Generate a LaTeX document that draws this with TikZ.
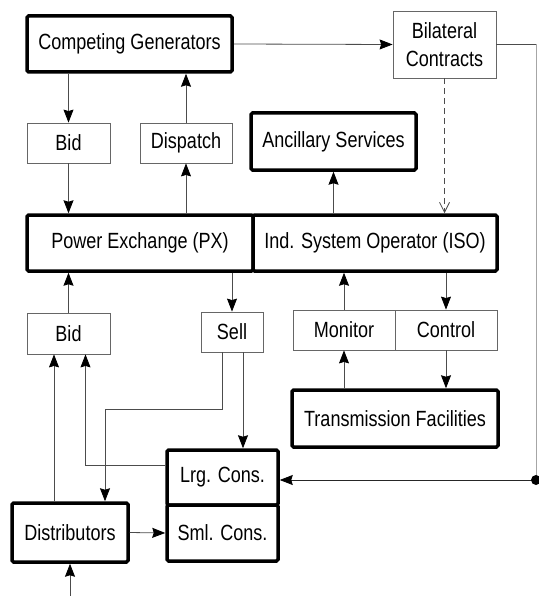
\documentclass[tikz,border=0pt]{standalone}
\usepackage{fontspec}
\setmainfont{Liberation Sans}[FakeStretch=0.82]
\usetikzlibrary{arrows.meta}
\begin{document}
\begin{tikzpicture}[x=1pt,y=-1pt,
  every node/.style={font=\fontsize{22}{28}\selectfont, inner sep=0pt, align=center},
  thinbox/.style={draw=black!60, line width=0.8pt, rectangle},
  thickbox/.style={draw=black, line width=3.5pt, rectangle, rounded corners=1.5pt},
  conn/.style={draw=black!70, line width=0.8pt},
  arr/.style={conn, -{Stealth[length=13pt,width=10pt,inset=1.5pt,color=black]}},
  openarr/.style={conn, dashed, dash pattern=on 6pt off 4pt, -{Straight Barb[length=10pt,width=10pt]}}
]
\useasboundingbox (0,0) rectangle (538,596);

% nodes
\node[thickbox, minimum width=205, minimum height=56] (cg) at (129.5,44) {Competing Generators};
\node[thinbox, minimum width=103, minimum height=67] (bc) at (444.5,44.5) {Bilateral\\Contracts};
\node[thinbox, minimum width=83, minimum height=40] (bid1) at (68.5,143) {Bid};
\node[thinbox, minimum width=92, minimum height=40] (disp) at (186,143) {Dispatch};
\node[thickbox, minimum width=165, minimum height=57] (anc) at (333.5,141.5) {Ancillary Services};
\node[thickbox, minimum width=226, minimum height=56] (px) at (140,243) {Power Exchange (PX)};
\node[thickbox, minimum width=244, minimum height=56] (iso) at (375,243) {Ind. System Operator (ISO)};
\node[thinbox, minimum width=83, minimum height=41] (bid2) at (68.5,333.5) {Bid};
\node[thinbox, minimum width=62, minimum height=40] (sell) at (232,332) {Sell};
\node[thinbox, minimum width=102, minimum height=40] (mon) at (344,330) {Monitor};
\node[thinbox, minimum width=102, minimum height=40] (ctl) at (446,330) {Control};
\node[thickbox, minimum width=206, minimum height=57] (tf) at (395,418.5) {Transmission Facilities};
\node[thickbox, minimum width=111, minimum height=55] (lrg) at (222.5,477.5) {Lrg. Cons.};
\node[thickbox, minimum width=111, minimum height=56] (sml) at (222.5,533) {Sml. Cons.};
\node[thickbox, minimum width=116, minimum height=59] (dist) at (70,532.5) {Distributors};

% helper coordinates
\coordinate (rt) at (536,44.5);
\coordinate (rc) at (536,480);
\coordinate (s1) at ([xshift=-10pt]sell.south);
\coordinate (s2) at ([xshift=11pt]sell.south);
\coordinate (d1) at ([xshift=-16pt]dist.north);
\coordinate (d2) at ([xshift=35pt]dist.north);
\coordinate (l1) at ([yshift=12pt]lrg.west);
\coordinate (b2r) at ([xshift=17pt]bid2.south);
\coordinate (bin) at (70,596);

% connectors
\draw[arr] (cg.east) -- (bc.west);
\draw[conn] (bc.east) -- (rt);
\draw[draw=black!35, line width=0.7pt] (rt) -- (rc);
\draw[arr, draw=black!85] (rc) -- (rc -| lrg.east);
\fill[black] (rc) circle (5pt);

\draw[arr] (cg.south -| bid1.north) -- (bid1.north);
\draw[arr] (disp.north) -- (disp.north |- cg.south);
\draw[arr] (bid1.south) -- (bid1.south |- px.north);
\draw[arr] (disp.south |- px.north) -- (disp.south);
\draw[arr] (anc.south |- iso.north) -- (anc.south);
\draw[openarr] (bc.south) -- (bc.south |- iso.north);

\draw[arr] (bid2.north) -- (bid2.north |- px.south);
\draw[arr] (sell.north |- px.south) -- (sell.north);
\draw[arr] (mon.north) -- (mon.north |- iso.south);
\draw[arr] (ctl.north |- iso.south) -- (ctl.north);
\draw[arr] (ctl.south) -- (ctl.south |- tf.north);
\draw[arr] (mon.south |- tf.north) -- (mon.south);

\draw[arr] (s2) -- (s2 |- lrg.north);
\draw[arr] (s1) -- ++(0,57) -| (d2);
\draw[arr] (d1) -- (d1 |- bid2.south);
\draw[arr] (l1) -| (b2r);
\draw[arr] (dist.east) -- (sml.west);
\draw[arr] (bin) -- (dist.south);
\end{tikzpicture}
\end{document}
